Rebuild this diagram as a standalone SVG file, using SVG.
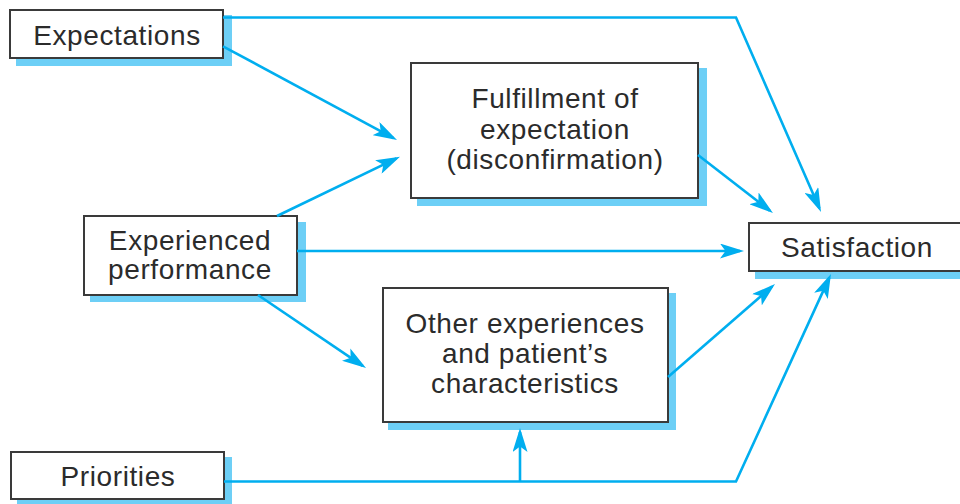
<svg xmlns="http://www.w3.org/2000/svg" width="960" height="504" viewBox="0 0 960 504">
  <style>
    .shadow { fill: #6dcff6; }
    .box { fill: #ffffff; stroke: #3a3a3a; stroke-width: 2; }
    .label { font-family: "Liberation Sans", Arial, sans-serif; font-size: 28px; letter-spacing: 0.6px; fill: #2b2b2b; text-anchor: middle; }
    .link { fill: none; stroke: #00aeef; stroke-width: 2.6; stroke-linejoin: miter; }
  </style>
  <defs>
    <marker id="arrow" viewBox="0 0 24 15" markerWidth="24" markerHeight="15" refX="20" refY="7.5" markerUnits="userSpaceOnUse" orient="auto">
      <path d="M0,0 L24,7.5 L0,15 L5.5,7.5 Z" fill="#00aeef"/>
    </marker>
  </defs>

  <rect width="960" height="504" fill="#ffffff"/>

  <!-- nodes -->
  <g id="expectations">
    <rect class="shadow" x="16" y="15" width="216" height="51"/>
    <rect class="box" x="10" y="10" width="213" height="48"/>
    <text class="label" x="117" y="45">Expectations</text>
  </g>

  <g id="fulfillment">
    <rect class="shadow" x="417" y="68" width="290" height="138"/>
    <rect class="box" x="411" y="63" width="287" height="135"/>
    <text class="label" x="555" y="108">Fulfillment of</text>
    <text class="label" x="555" y="139">expectation</text>
    <text class="label" x="555" y="169">(disconfirmation)</text>
  </g>

  <g id="experienced">
    <rect class="shadow" x="90" y="222" width="216" height="80"/>
    <rect class="box" x="84" y="216" width="213" height="79"/>
    <text class="label" x="190" y="250">Experienced</text>
    <text class="label" x="190" y="279">performance</text>
  </g>

  <g id="satisfaction">
    <rect class="shadow" x="755" y="229" width="220" height="50"/>
    <rect class="box" x="749" y="223" width="216" height="48"/>
    <text class="label" x="857" y="257">Satisfaction</text>
  </g>

  <g id="other">
    <rect class="shadow" x="388" y="293" width="288" height="137"/>
    <rect class="box" x="383" y="288" width="285" height="134"/>
    <text class="label" x="525" y="333">Other experiences</text>
    <text class="label" x="525" y="363">and patient’s</text>
    <text class="label" x="525" y="393">characteristics</text>
  </g>

  <g id="priorities">
    <rect class="shadow" x="17" y="457" width="215" height="50"/>
    <rect class="box" x="11" y="452" width="213" height="47"/>
    <text class="label" x="118" y="486">Priorities</text>
  </g>

  <!-- connectors -->
  <g id="connectors">
    <path class="link" d="M223,17.5 H736 L819.4,208.3" marker-end="url(#arrow)"/>
    <path class="link" d="M223,46.3 L393.5,138.1" marker-end="url(#arrow)"/>
    <path class="link" d="M277,216 L396.4,158.4" marker-end="url(#arrow)"/>
    <path class="link" d="M297,251 H740" marker-end="url(#arrow)"/>
    <path class="link" d="M258,295 L362.7,365.8" marker-end="url(#arrow)"/>
    <path class="link" d="M698,155 L769.8,210.6" marker-end="url(#arrow)"/>
    <path class="link" d="M668,377 L772,286.6" marker-end="url(#arrow)"/>
    <path class="link" d="M224,481.5 H736 L829.3,277.6" marker-end="url(#arrow)"/>
    <path class="link" d="M520,481.5 V432" marker-end="url(#arrow)"/>
  </g>
</svg>
